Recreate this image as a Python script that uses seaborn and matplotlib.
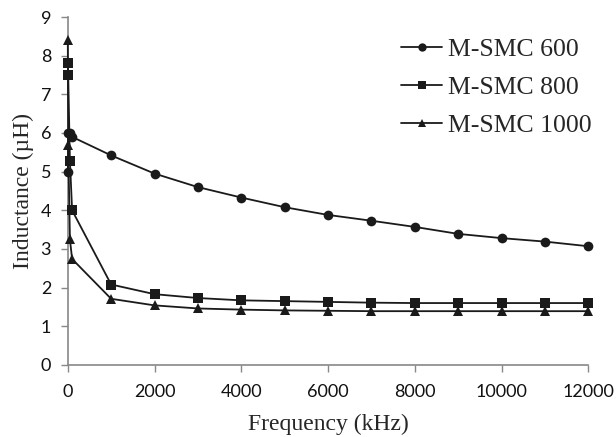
import matplotlib
matplotlib.use("Agg")
import matplotlib.pyplot as plt
import numpy as np
import pandas as pd
import seaborn as sns

# frequency points (kHz)
freq = [1, 10, 50, 100, 1000, 2000, 3000, 4000, 5000, 6000,
        7000, 8000, 9000, 10000, 11000, 12000]

# inductance (uH)
smc600 = [5.0, 6.0, 6.0, 5.9, 5.42, 4.95, 4.6, 4.33, 4.08, 3.88,
          3.73, 3.57, 3.39, 3.28, 3.19, 3.07]
smc800 = [7.8, 7.5, 5.28, 4.0, 2.08, 1.83, 1.73, 1.67, 1.65, 1.63,
          1.61, 1.6, 1.6, 1.6, 1.6, 1.6]
smc1000 = [8.4, 5.7, 3.25, 2.74, 1.71, 1.54, 1.46, 1.43, 1.41, 1.4,
           1.39, 1.39, 1.39, 1.39, 1.39, 1.39]

labels = ["M-SMC 600", "M-SMC 800", "M-SMC 1000"]
x_ticks = [0, 2000, 4000, 6000, 8000, 10000, 12000]
y_ticks = [0, 1, 2, 3, 4, 5, 6, 7, 8, 9]

rows = []
for name, vals in zip(labels, [smc600, smc800, smc1000]):
    for f, v in zip(freq, vals):
        rows.append({"Frequency": f, "Inductance": v, "Sample": name})
df = pd.DataFrame(rows)

sns.set_style("ticks")
plt.rcParams["font.family"] = ["Lato", "DejaVu Sans"]

fig = plt.figure(figsize=(6.16, 4.37), dpi=100)
ax = fig.add_axes([0.110, 0.165, 0.845, 0.796])

sns.lineplot(data=df, x="Frequency", y="Inductance", hue="Sample", style="Sample",
             palette=["#1a1a1a"] * 3, markers=["o", "s", "^"], dashes=False,
             markersize=7, linewidth=1.3, markeredgewidth=0, ax=ax, sort=False)
for ln in ax.lines:
    ln.set_clip_on(False)
    ln.set_zorder(5)

ax.set_xlim(0, 12000)
ax.set_ylim(0, 9)
ax.set_xticks(x_ticks)
ax.set_yticks(y_ticks)
ax.tick_params(labelsize=13, colors="#888888", labelcolor="#111111", length=5, width=1)
ax.tick_params(axis="x", pad=9)
ax.tick_params(axis="y", pad=7)
for s in ["top", "right"]:
    ax.spines[s].set_visible(False)
for s in ["left", "bottom"]:
    ax.spines[s].set_color("#888888")
    ax.spines[s].set_linewidth(1.2)

serif = ["Liberation Serif", "DejaVu Serif"]
ax.set_xlabel("Frequency (kHz)", fontsize=17, family=serif, labelpad=10)
ax.set_ylabel("Inductance (\u00b5H)", fontsize=17, family=serif, labelpad=5)

leg = ax.legend(loc="upper left", bbox_to_anchor=(0.614, 0.967),
                bbox_transform=fig.transFigure, frameon=False,
                prop={"family": serif, "size": 18.5}, handlelength=1.6,
                labelspacing=0.6, handletextpad=0.2)
for h in leg.legend_handles:
    h.set_markersize(6)

fig.savefig("out.png", dpi=100)
